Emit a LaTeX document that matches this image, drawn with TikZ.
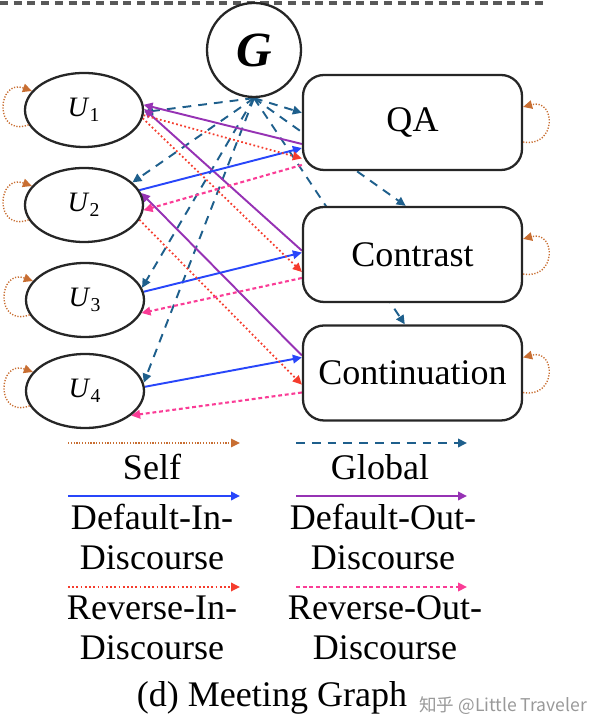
\documentclass[tikz,border=0pt]{standalone}
\usepackage{fontspec}
\setmainfont{Liberation Serif}
\newfontfamily\cjkfont{Noto Sans CJK SC}
\usepackage{tikz}
\usetikzlibrary{arrows.meta,shapes.geometric,backgrounds}

\definecolor{selfc}{RGB}{200,110,50}
\definecolor{globc}{RGB}{30,95,140}
\definecolor{inc}{RGB}{40,70,250}
\definecolor{outc}{RGB}{150,50,180}
\definecolor{revinc}{RGB}{245,60,45}
\definecolor{revoutc}{RGB}{250,60,150}

\begin{document}
\begin{tikzpicture}[>={Triangle[length=0.18cm,width=0.17cm]}]
    \tikzstyle{utt}=[ellipse,draw=black!85,line width=1.3pt,fill=white,minimum width=2.36cm,minimum height=1.48cm,inner sep=0pt,font=\fontsize{16}{18}\selectfont]
    \tikzstyle{rel}=[rectangle,rounded corners=0.42cm,draw=black!85,line width=1.3pt,fill=white,minimum width=4.38cm,minimum height=1.9cm,inner sep=0pt,font=\fontsize{20.5}{24}\selectfont]
    \tikzstyle{glob node}=[circle,draw=black!85,line width=1.3pt,fill=white,minimum size=1.88cm,inner sep=0pt,font=\fontsize{28}{30}\selectfont\bfseries\itshape]
    \tikzstyle{lbl}=[align=center,inner sep=0pt,font=\fontsize{20.5}{23.3}\selectfont]
    \tikzstyle{selfloop}=[->,selfc,line width=0.8pt,dash pattern=on 0.7pt off 0.9pt]
    \tikzstyle{global}=[->,globc,line width=1.1pt,dash pattern=on 5pt off 4pt]
    \tikzstyle{defin}=[->,inc,line width=1.1pt]
    \tikzstyle{defout}=[->,outc,line width=1.1pt]
    \tikzstyle{revin}=[->,revinc,line width=1pt,dash pattern=on 1pt off 1.4pt]
    \tikzstyle{revout}=[->,revoutc,line width=1.2pt,dash pattern=on 2.2pt off 1.6pt]
    \useasboundingbox (0,0) rectangle (12,14.56);

    % separator on top
    \coordinate (top_a) at (0,14.5);
    \coordinate (top_b) at (10.92,14.5);
    \draw[black!65,line width=2.3pt,dash pattern=on 4.6pt off 3.2pt] (top_a) -- (top_b);

    \node[glob node] (G) at (5.08,13.56) {G};
    \node[utt] (U_1) at (1.68,12.36) {\textit{U}\textsubscript{1}};
    \node[utt] (U_2) at (1.68,10.46) {\textit{U}\textsubscript{2}};
    \node[utt] (U_3) at (1.70,8.56) {\textit{U}\textsubscript{3}};
    \node[utt] (U_4) at (1.70,6.74) {\textit{U}\textsubscript{4}};
    \node[rel] (R_1) at (8.25,12.11) {QA};
    \node[rel] (R_2) at (8.25,9.47) {Contrast};
    \node[rel] (R_3) at (8.25,7.10) {Continuation};

    \begin{pgfonlayer}{background}
    % global edges
    \draw[global] (G.south) -- (U_1.-2);
    \draw[global] (G.south) -- (U_2.25);
    \draw[global] (G.south) -- (U_3.12);
    \draw[global] (G.south) -- (U_4.8);
    \draw[global] (G.south) -- (R_1.175);
    \draw[global] (G.south) -- (R_2.98);
    \draw[global] (G.south) -- (R_3.99);
    % discourse edges
    \draw[defout] (R_1.191) -- (U_1.5);
    \draw[defout] (R_2.178) -- (U_1.1);
    \draw[defout] (R_3.171) -- (U_2.12);
    \draw[defin] (U_2.15) -- (R_1.193);
    \draw[defin] (U_3.8) -- (R_2.179);
    \draw[defin] (U_4.4) -- (R_3.172);
    \draw[revin] (U_1.-5) -- (R_1.198);
    \draw[revin] (U_1.-8) -- (R_2.189);
    \draw[revin] (U_2.-15) -- (R_3.186);
    \draw[revout] (R_1.201) -- (U_2.-5);
    \draw[revout] (R_2.192) -- (U_3.-13);
    \draw[revout] (R_3.190) -- (U_4.-28);
    \end{pgfonlayer}

    % self loops
    \draw[selfloop] (U_1.195) to[out=200,in=160,looseness=2.8] (U_1.160);
    \draw[selfloop] (U_2.195) to[out=200,in=160,looseness=2.8] (U_2.160);
    \draw[selfloop] (U_3.195) to[out=200,in=160,looseness=2.8] (U_3.160);
    \draw[selfloop] (U_4.195) to[out=200,in=160,looseness=2.8] (U_4.160);
    \draw[selfloop] (R_1.-10) to[out=-10,in=15,looseness=2.5] (R_1.8);
    \draw[selfloop] (R_2.-10) to[out=-10,in=15,looseness=2.5] (R_2.8);
    \draw[selfloop] (R_3.-10) to[out=-10,in=15,looseness=2.5] (R_3.8);

    % legend
    \coordinate (self_a) at (1.36,5.70);
    \coordinate (self_b) at (4.80,5.70);
    \coordinate (glob_a) at (5.92,5.70);
    \coordinate (glob_b) at (9.34,5.70);
    \coordinate (din_a) at (1.36,4.64);
    \coordinate (din_b) at (4.80,4.64);
    \coordinate (dout_a) at (5.92,4.64);
    \coordinate (dout_b) at (9.34,4.64);
    \coordinate (rin_a) at (1.36,2.82);
    \coordinate (rin_b) at (4.80,2.82);
    \coordinate (rout_a) at (5.92,2.82);
    \coordinate (rout_b) at (9.34,2.82);
    \draw[selfloop] (self_a) -- (self_b);
    \draw[global] (glob_a) -- (glob_b);
    \draw[defin] (din_a) -- (din_b);
    \draw[defout] (dout_a) -- (dout_b);
    \draw[revin] (rin_a) -- (rin_b);
    \draw[revout] (rout_a) -- (rout_b);

    \node[lbl,anchor=base] (L_self) at (3.04,4.96) {Self};
    \node[lbl,anchor=base] (L_glob) at (7.60,4.96) {Global};
    \node[lbl,anchor=base] (L_din) at (3.04,3.16) {Default-In-\\Discourse};
    \node[lbl,anchor=base] (L_dout) at (7.66,3.16) {Default-Out-\\Discourse};
    \node[lbl,anchor=base] (L_rin) at (3.04,1.36) {Reverse-In-\\Discourse};
    \node[lbl,anchor=base] (L_rout) at (7.70,1.36) {Reverse-Out-\\Discourse};
    \node[lbl,anchor=base] (caption) at (5.44,0.42) {(d) Meeting Graph};
    \node[anchor=base west,inner sep=0pt,text=black!40,font=\cjkfont\fontsize{10}{12}\selectfont] (mark) at (8.38,0.32) {知乎 @Little Traveler};
\end{tikzpicture}
\end{document}
